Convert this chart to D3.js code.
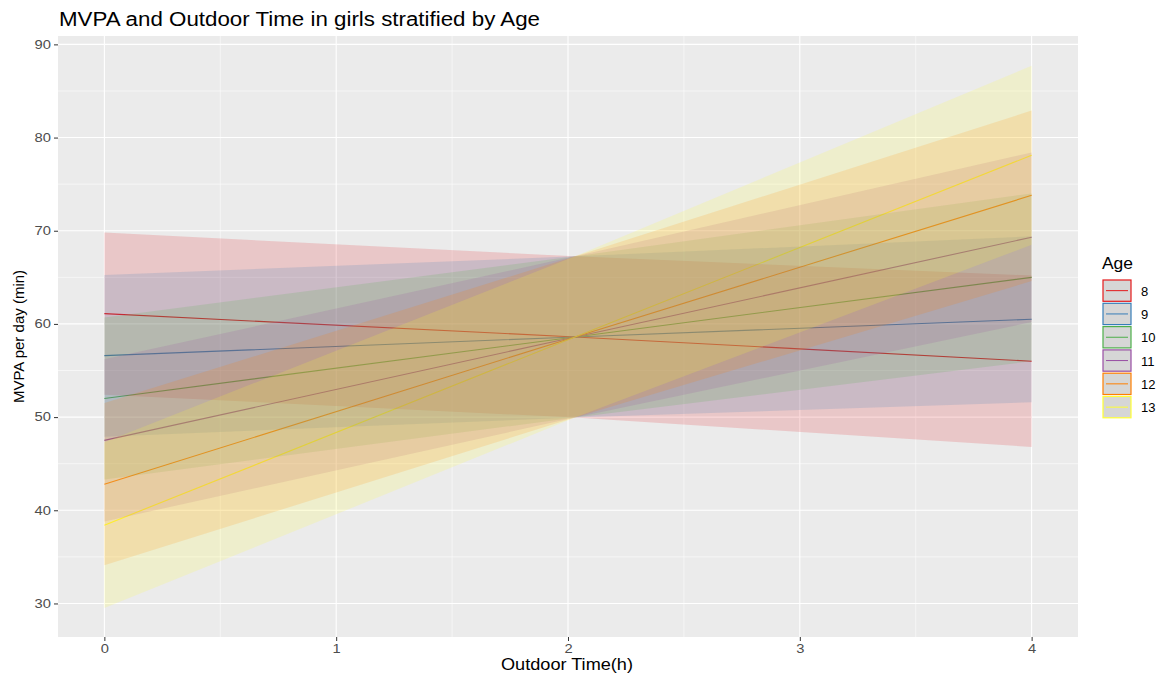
<!DOCTYPE html>
<html>
<head>
<meta charset="utf-8">
<script src="https://cdn.jsdelivr.net/npm/d3@7"></script>
<style>
  body { margin: 0; background: #fff; }
  text { font-family: "Liberation Sans", Arial, sans-serif; }
</style>
</head>
<body>
<div class="container"></div>
<script>
// outdoor time points where the fitted values / CI were read
const outdoorTime = [0, 2.03, 4];
const ages = ["8", "9", "10", "11", "12", "13"];
const colors = ["#E41A1C", "#377EB8", "#4DAF4A", "#984EA3", "#FF7F00", "#FFFF33"];

// fitted MVPA per age (min/day)
const fit8 = [61.1, 58.6, 56.0];
const fit9 = [56.6, 58.6, 60.5];
const fit10 = [52.0, 58.6, 65.0];
const fit11 = [47.5, 58.6, 69.3];
const fit12 = [42.8, 58.6, 73.8];
const fit13 = [38.4, 58.6, 78.1];

// confidence band, lower and upper
const lower8 = [52.4, 49.95, 46.8];
const upper8 = [69.8, 67.25, 65.2];
const lower9 = [47.9, 49.95, 51.6];
const upper9 = [65.25, 67.25, 69.4];
const lower10 = [43.3, 49.95, 56.0];
const upper10 = [60.7, 67.25, 74.0];
const lower11 = [38.8, 49.95, 60.2];
const upper11 = [56.2, 67.25, 78.4];
const lower12 = [34.1, 49.95, 64.6];
const upper12 = [51.5, 67.25, 82.9];
const lower13 = [29.5, 49.95, 68.5];
const upper13 = [47.3, 67.25, 87.7];

const xTicks = [0, 1, 2, 3, 4];
const yTicks = [30, 40, 50, 60, 70, 80, 90];

const fits = [fit8, fit9, fit10, fit11, fit12, fit13];
const lowers = [lower8, lower9, lower10, lower11, lower12, lower13];
const uppers = [upper8, upper9, upper10, upper11, upper12, upper13];

const series = ages.map((a, i) => ({
  age: a,
  color: colors[i],
  pts: outdoorTime.map((t, j) => ({x: t, fit: fits[i][j], lo: lowers[i][j], hi: uppers[i][j]}))
}));

const width = 1160, height = 674;
const panel = {left: 58, right: 1078, top: 36, bottom: 637};

//the reference text is drawn a bit wide, so stretch glyphs per character
const stretch = (sel, perChar) => sel
  .attr("textLength", function() { return this.textContent.length * perChar; })
  .attr("lengthAdjust", "spacingAndGlyphs");

const svg = d3.select(".container").append("svg")
  .attr("width", width)
  .attr("height", height);

const x = d3.scaleLinear().domain([-0.2, 4.2]).range([panel.left, panel.right]);
const y = d3.scaleLinear().domain([26.4, 90.9]).range([panel.bottom, panel.top]);

//panel background
svg.append("rect")
  .attr("x", panel.left).attr("y", panel.top)
  .attr("width", panel.right - panel.left)
  .attr("height", panel.bottom - panel.top)
  .attr("fill", "#EBEBEB");

//grid, minor then major
const grid = svg.append("g");
const xMinor = d3.range(0.5, 4, 1);
const yMinor = d3.range(35, 90, 10);
grid.selectAll(".xminor").data(xMinor).join("line")
  .attr("x1", d => x(d)).attr("x2", d => x(d))
  .attr("y1", panel.top).attr("y2", panel.bottom)
  .attr("stroke", "#fff").attr("stroke-width", 0.55);
grid.selectAll(".yminor").data(yMinor).join("line")
  .attr("y1", d => y(d)).attr("y2", d => y(d))
  .attr("x1", panel.left).attr("x2", panel.right)
  .attr("stroke", "#fff").attr("stroke-width", 0.55);
grid.selectAll(".xmajor").data(xTicks).join("line")
  .attr("x1", d => x(d)).attr("x2", d => x(d))
  .attr("y1", panel.top).attr("y2", panel.bottom)
  .attr("stroke", "#fff").attr("stroke-width", 1.1);
grid.selectAll(".ymajor").data(yTicks).join("line")
  .attr("y1", d => y(d)).attr("y2", d => y(d))
  .attr("x1", panel.left).attr("x2", panel.right)
  .attr("stroke", "#fff").attr("stroke-width", 1.1);

//lines first, ribbons drawn over them
const line = d3.line().x(d => x(d.x)).y(d => y(d.fit));
const area = d3.area().x(d => x(d.x)).y0(d => y(d.lo)).y1(d => y(d.hi));

svg.append("g").selectAll("path").data(series).join("path")
  .attr("d", d => line(d.pts))
  .attr("fill", "none")
  .attr("stroke", d => d.color)
  .attr("stroke-width", 1.1);

svg.append("g").selectAll("path").data(series).join("path")
  .attr("d", d => area(d.pts))
  .attr("fill", d => d.color)
  .attr("fill-opacity", 0.17);

//axes
const xAxis = d3.axisBottom(x).tickValues(xTicks).tickSize(4).tickPadding(3).tickFormat(d3.format("d"));
const yAxis = d3.axisLeft(y).tickValues(yTicks).tickSize(4).tickPadding(3);

const xg = svg.append("g").attr("transform", `translate(0, ${panel.bottom})`).call(xAxis);
const yg = svg.append("g").attr("transform", `translate(${panel.left}, 0)`).call(yAxis);
[xg, yg].forEach(g => {
  g.select(".domain").remove();
  g.selectAll("line").attr("stroke", "#333").attr("stroke-width", 1);
  g.selectAll("text").attr("fill", "#4D4D4D").style("font-size", "12px")
    .style("font-family", '"Liberation Sans", Arial, sans-serif')
    .call(stretch, 8.2);
});

//titles
svg.append("text")
  .attr("x", 59).attr("y", 26)
  .style("font-size", "19.5px")
  .attr("fill", "#000")
  .attr("textLength", 481)
  .attr("lengthAdjust", "spacingAndGlyphs")
  .text("MVPA and Outdoor Time in girls stratified by Age");

svg.append("text")
  .attr("x", 567).attr("y", 670)
  .attr("text-anchor", "middle")
  .style("font-size", "16.3px")
  .attr("textLength", 132)
  .attr("lengthAdjust", "spacingAndGlyphs")
  .text("Outdoor Time(h)");

svg.append("text")
  .attr("transform", `translate(24, 336.5) rotate(-90)`)
  .attr("text-anchor", "middle")
  .style("font-size", "15px")
  .text("MVPA per day (min)");

//legend
const legend = svg.append("g").attr("transform", "translate(1102, 279)");
legend.append("text")
  .attr("x", 0).attr("y", -10)
  .style("font-size", "16px")
  .attr("textLength", 31)
  .attr("lengthAdjust", "spacingAndGlyphs")
  .text("Age");

const keyH = 23.3;
const keys = legend.selectAll(".key").data(series).join("g")
  .attr("transform", (d, i) => `translate(0, ${i * keyH})`);
keys.append("rect")
  .attr("x", 1).attr("y", 1)
  .attr("width", 28).attr("height", keyH - 2)
  .attr("fill", "#D6D6D6")
  .attr("stroke", d => d.color)
  .attr("stroke-width", 1.2);
keys.append("line")
  .attr("x1", 4).attr("x2", 26)
  .attr("y1", keyH / 2).attr("y2", keyH / 2)
  .attr("stroke", d => d.color)
  .attr("stroke-width", 1);
keys.append("text")
  .attr("x", 39).attr("y", keyH / 2 + 5)
  .style("font-size", "13px")
  .attr("fill", "#000")
  .call(stretch, 8.2)
  .text(d => d.age);
</script>
</body>
</html>
